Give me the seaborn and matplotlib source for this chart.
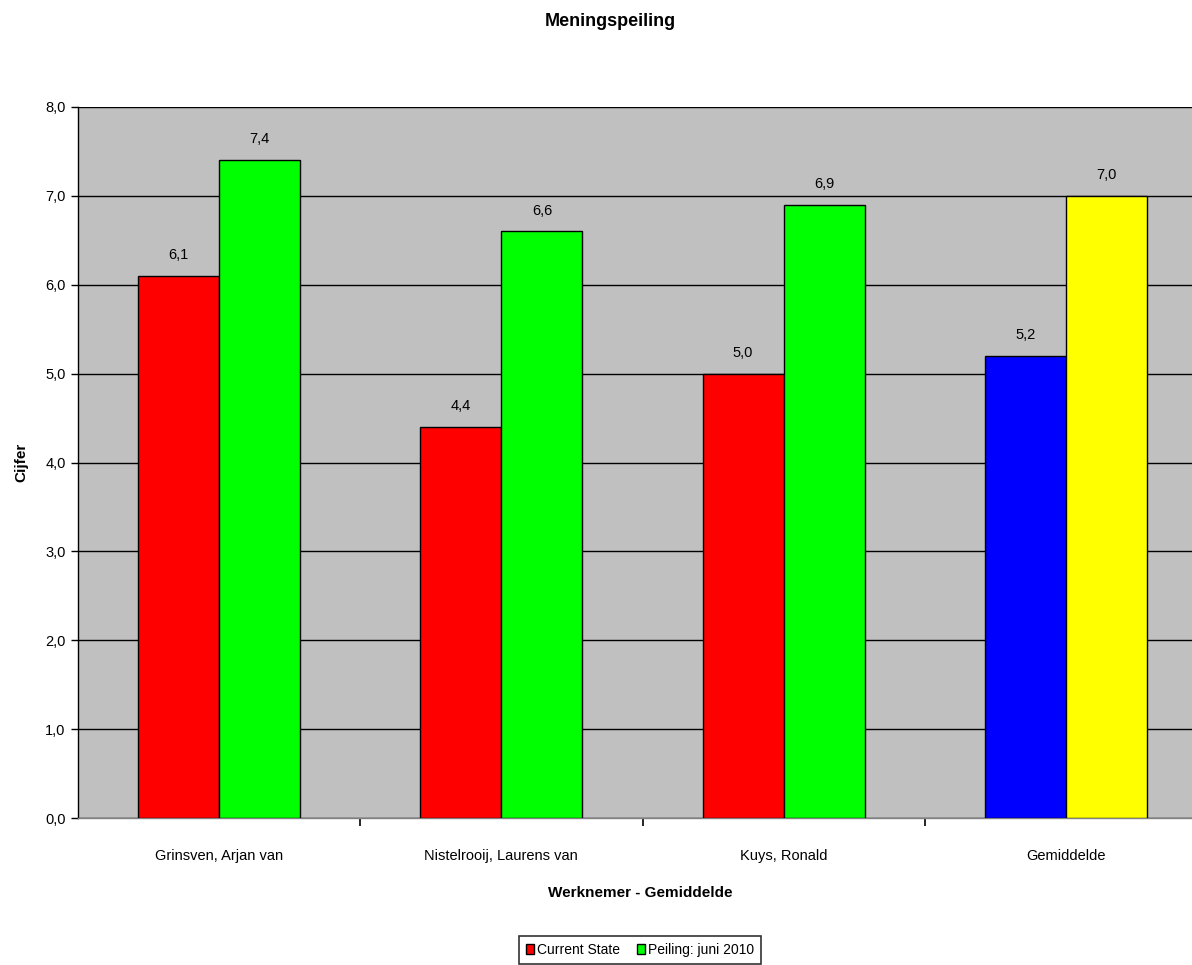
import matplotlib
matplotlib.use("Agg")
import matplotlib.pyplot as plt
import seaborn as sns
import pandas as pd
import numpy as np
from matplotlib.ticker import FixedLocator, FuncFormatter
from matplotlib.patches import Patch

categories = ["Grinsven, Arjan van", "Nistelrooij, Laurens van", "Kuys, Ronald", "Gemiddelde"]
series_names = ["Current State", "Peiling: juni 2010"]
current_state = [6.1, 4.4, 5.0, 5.2]
peiling = [7.4, 6.6, 6.9, 7.0]

df = pd.DataFrame({
    "Werknemer": categories * 2,
    "Serie": [series_names[0]] * 4 + [series_names[1]] * 4,
    "Cijfer": current_state + peiling,
})

sns.set_theme(style="ticks")
plt.rcParams['font.family'] = ['Liberation Sans', 'DejaVu Sans']
plt.rcParams.update({"text.color": "black", "axes.labelcolor": "black",
                     "xtick.color": "black", "ytick.color": "black"})

fig = plt.figure(figsize=(11.92, 9.65), dpi=100)
ax = fig.add_axes([78/1192, 1 - 818/965, (1207-78)/1192, (818-107)/965])
ax.set_facecolor("#C0C0C0")

sns.barplot(data=df, x="Werknemer", y="Cijfer", hue="Serie", order=categories,
            hue_order=series_names, palette=["#FF0000", "#00FF00"], width=0.574,
            saturation=1, edgecolor="black", linewidth=1, ax=ax, errorbar=None, zorder=3)

cont_cur, cont_pei = ax.containers[0], ax.containers[1]
cont_cur.patches[3].set_facecolor("#0000FF")
cont_pei.patches[3].set_facecolor("#FFFF00")

fmt = lambda v: f"{v:.1f}".replace(".", ",")
for cont in ax.containers:
    ax.bar_label(cont, labels=[fmt(p.get_height()) for p in cont.patches],
                 padding=10, fontsize=10.5, color="black")

ax.set_ylim(0, 8)
ax.set_xlim(-0.5, 3.5)
ax.yaxis.set_major_locator(FixedLocator(np.arange(0, 8.01, 1.0)))
ax.yaxis.set_major_formatter(FuncFormatter(lambda v, p: fmt(v)))
ax.grid(axis="y", color="black", linewidth=1, zorder=1)
ax.set_axisbelow(True)

ax.set_xticks(range(len(categories)))
ax.set_xticklabels(categories, fontsize=10.5)
ax.tick_params(axis="x", which="major", length=0, pad=22, bottom=True)
ax.set_xticks([0.5, 1.5, 2.5], minor=True)
ax.tick_params(axis="x", which="minor", length=6, width=1.2, color="black",
               direction="out", bottom=True)
ax.tick_params(axis="y", which="major", length=5, width=1, color="black",
               direction="out", labelsize=10.5, pad=4, left=True)

for s in ["top", "right"]:
    ax.spines[s].set_visible(False)
ax.spines["left"].set_color("black")
ax.spines["left"].set_linewidth(1)
ax.spines["bottom"].set_color("#808080")
ax.spines["bottom"].set_linewidth(1)

ax.set_xlabel("Werknemer - Gemiddelde", fontsize=11, fontweight="bold", labelpad=10)
ax.xaxis.set_label_coords((640 - 78) / (1207 - 78), -0.095)
ax.set_ylabel("Cijfer", fontsize=11, fontweight="bold", labelpad=12)
fig.text(610/1192, 1 - 22/965, "Meningspeiling", ha="center", va="center",
         fontsize=13, fontweight="bold")

ax.legend_.remove()
handles = [Patch(facecolor="#FF0000", edgecolor="black"), Patch(facecolor="#00FF00", edgecolor="black")]
leg = fig.legend(handles, series_names, loc="center", bbox_to_anchor=(640/1192, 1 - 950/965),
                 ncol=2, frameon=True, fontsize=10, handlelength=0.6, handleheight=0.8,
                 handletextpad=0.2, columnspacing=1.2, fancybox=False, borderpad=0.5)
leg.get_frame().set_edgecolor("black")
leg.get_frame().set_linewidth(1.2)

fig.savefig("out.png", dpi=100)
